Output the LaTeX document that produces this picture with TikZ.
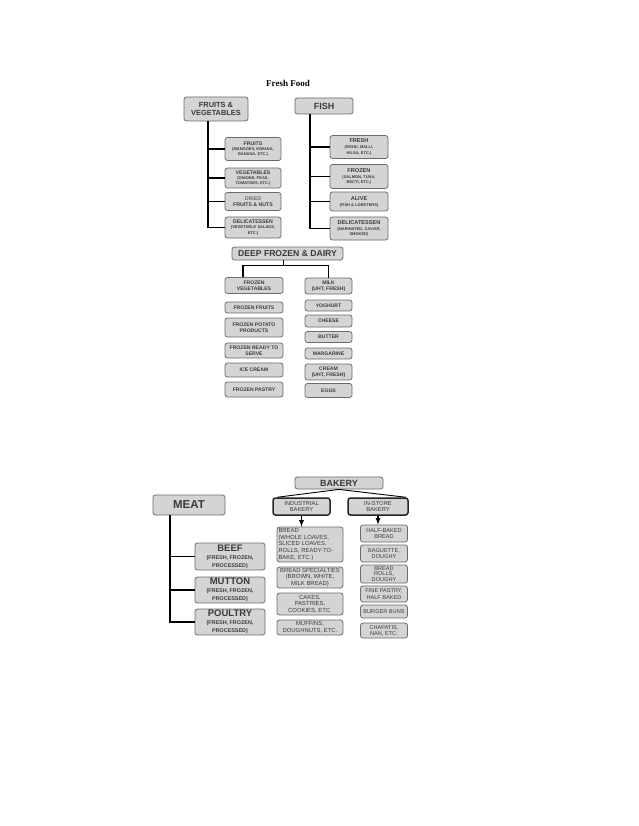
\documentclass[tikz,border=0pt]{standalone}
\usepackage{fontspec}
\setmainfont{Liberation Serif}
\newfontfamily\boxfont{Liberation Sans}
\definecolor{boxgray}{HTML}{D3D5D3}
\definecolor{boxline}{HTML}{6A6C6A}
\definecolor{boxtext}{HTML}{3A3A3A}
\newcommand{\bxf}[2]{\boxfont\bfseries\fontsize{#1}{#2}\selectfont}
\newcommand{\subt}[1]{{\fontsize{4}{4.4}\selectfont #1}}
\newcommand{\meatsub}[1]{{\fontsize{5.4}{6}\selectfont #1}}

\begin{document}
\begin{tikzpicture}[x=1pt, y=-1pt,
    item/.style={draw=boxline, fill=boxgray, rounded corners=2.5pt, line width=0.8pt,
      align=center, text=boxtext, inner sep=0.5pt},
    bakebox/.style={item, line width=1.5pt, draw=black!85},
    tree/.style={line width=1.2pt, black}]

    \useasboundingbox (0,0) rectangle (638,826); % page size

    \node[font=\bfseries\fontsize{9}{10}\selectfont] (title) at (288,83) {Fresh Food};

    % fruits & vegetables
    \node[item, minimum width=64pt, minimum height=24pt, font=\bxf{7.4}{8.2}] (fv) at (216,109)
      {FRUITS \&\\VEGETABLES};
    \node[item, minimum width=56pt, minimum height=23pt, font=\bxf{5.2}{5.2}] (fruits) at (253,149)
      {FRUITS\\\subt{(MANGOES, KIWANA,}\\\subt{BANANA, ETC.)}};
    \node[item, minimum width=56pt, minimum height=20pt, font=\bxf{5.2}{5.2}] (veg) at (253,178)
      {VEGETABLES\\\subt{(ONIONS, PEAS,}\\\subt{TOMATOES, ETC.)}};
    \node[item, minimum width=56pt, minimum height=18pt, font=\bxf{5.2}{6.2}] (dried) at (253,201.5)
      {{\mdseries DRIED}\\FRUITS \& NUTS};
    \node[item, minimum width=56pt, minimum height=21pt, font=\bxf{5.2}{5.2}] (fdeli) at (253,227.5)
      {DELICATESSEN\\\subt{(VEGETABLE SALADS,}\\\subt{ETC.)}};

    \coordinate (ftrunk) at ([xshift=-8pt]fv.south);
    \draw[tree] (ftrunk) |- (fruits.west);
    \draw[tree] (ftrunk) |- (veg.west);
    \draw[tree] (ftrunk) |- (dried.west);
    \draw[tree] (ftrunk) |- (fdeli.west);

    % fish
    \node[item, minimum width=58pt, minimum height=16pt, font=\bxf{9}{10}] (fish) at (324,106) {FISH};
    \node[item, minimum width=58pt, minimum height=23pt, font=\bxf{5.6}{5.8}] (fresh) at (359,147)
      {FRESH\\\subt{(ROHU, MALLI,}\\\subt{HILSA, ETC.)}};
    \node[item, minimum width=58pt, minimum height=24pt, font=\bxf{5.6}{5.8}] (fishfrozen) at (359,176.5)
      {FROZEN\\\subt{(SALMON, TUNA,}\\\subt{BECTI, ETC.)}};
    \node[item, minimum width=58pt, minimum height=19pt, font=\bxf{5.6}{6}] (alive) at (359,201.5)
      {ALIVE\\\subt{(FISH \& LOBSTERS)}};
    \node[item, minimum width=58pt, minimum height=23pt, font=\bxf{5.6}{5.8}] (fishdeli) at (359,228.5)
      {DELICATESSEN\\\subt{(MARINATED, CAVIAR,}\\\subt{SMOKED)}};

    \coordinate (fishtrunk) at ([xshift=-14pt]fish.south);
    \draw[tree] (fishtrunk) |- (fresh.west);
    \draw[tree] (fishtrunk) |- (fishfrozen.west);
    \draw[tree] (fishtrunk) |- (alive.west);
    \draw[tree] (fishtrunk) |- (fishdeli.west);

    % deep frozen & dairy
    \node[item, minimum width=111pt, minimum height=13pt, font=\bxf{8.6}{9}] (df) at (287.5,253.5)
      {DEEP FROZEN \& DAIRY};
    \node[item, minimum width=58pt, minimum height=16pt, font=\bxf{5.1}{5.8}] (fveg) at (254,285.5)
      {FROZEN\\VEGETABLES};
    \node[item, minimum width=58pt, minimum height=11pt, font=\bxf{5.1}{5.8}] (ffruits) at (254,307.5)
      {FROZEN FRUITS};
    \node[item, minimum width=58pt, minimum height=19pt, font=\bxf{5.1}{5.8}] (fpotato) at (254,327.5)
      {FROZEN POTATO\\PRODUCTS};
    \node[item, minimum width=58pt, minimum height=15pt, font=\bxf{5.1}{5.8}] (fready) at (254,350.5)
      {FROZEN READY TO\\SERVE};
    \node[item, minimum width=58pt, minimum height=14pt, font=\bxf{5.1}{5.8}] (icecream) at (254,370)
      {ICE CREAM};
    \node[item, minimum width=58pt, minimum height=15pt, font=\bxf{5.1}{5.8}] (fpastry) at (254,389.5)
      {FROZEN PASTRY};

    \node[item, minimum width=47pt, minimum height=16pt, font=\bxf{5.1}{5.8}] (milk) at (328.5,286)
      {MILK\\(UHT, FRESH)};
    \node[item, minimum width=47pt, minimum height=11pt, font=\bxf{5.1}{5.8}] (yoghurt) at (328.5,305.5)
      {YOGHURT};
    \node[item, minimum width=47pt, minimum height=12pt, font=\bxf{5.1}{5.8}] (cheese) at (328.5,321)
      {CHEESE};
    \node[item, minimum width=47pt, minimum height=11pt, font=\bxf{5.1}{5.8}] (butter) at (328.5,337)
      {BUTTER};
    \node[item, minimum width=47pt, minimum height=11pt, font=\bxf{5.1}{5.8}] (margarine) at (328.5,353.5)
      {MARGARINE};
    \node[item, minimum width=47pt, minimum height=16pt, font=\bxf{5.1}{5.8}] (cream) at (328.5,372)
      {CREAM\\(UHT, FRESH)};
    \node[item, minimum width=47pt, minimum height=14pt, font=\bxf{5.1}{5.8}] (eggs) at (328.5,390.5)
      {EGGS};

    \coordinate (dfj) at ([xshift=-4pt, yshift=-5pt]df.south);
    \draw[tree] (dfj) -- (dfj |- df.south);
    \draw[tree] ([xshift=-11pt]fveg.north) |- (dfj) -| (milk.north);

    % meat
    \node[item, minimum width=72pt, minimum height=20pt, font=\bxf{11.5}{12}] (meat) at (189,505) {MEAT};
    \node[item, minimum width=70pt, minimum height=27pt, font=\bxf{9.5}{8}] (beef) at (230,556.5)
      {BEEF\\\meatsub{(FRESH, FROZEN,}\\\meatsub{PROCESSED)}};
    \node[item, minimum width=70pt, minimum height=26pt, font=\bxf{9.5}{8}] (mutton) at (230,590)
      {MUTTON\\\meatsub{(FRESH, FROZEN,}\\\meatsub{PROCESSED)}};
    \node[item, minimum width=70pt, minimum height=26pt, font=\bxf{9.5}{8}] (poultry) at (230,622)
      {POULTRY\\\meatsub{(FRESH, FROZEN,}\\\meatsub{PROCESSED)}};

    \coordinate (meattrunk) at ([xshift=-19pt]meat.south);
    \draw[tree] (meattrunk) |- (beef.west);
    \draw[tree] (meattrunk) |- (mutton.west);
    \draw[tree] (meattrunk) |- (poultry.west);

    % bakery
    \node[item, minimum width=88pt, minimum height=12pt, font=\bxf{9}{10}] (bakery) at (339,483) {BAKERY};
    \node[bakebox, minimum width=57pt, minimum height=17pt, font=\boxfont\fontsize{5.8}{6.6}\selectfont]
      (industrial) at (301.5,506.5) {INDUSTRIAL\\BAKERY};
    \node[bakebox, minimum width=60pt, minimum height=17pt, font=\boxfont\fontsize{5.8}{6.6}\selectfont]
      (instore) at (378,506.5) {IN-STORE\\BAKERY};

    \node[item, minimum width=66pt, minimum height=35pt, text width=63pt, align=left,
      font=\boxfont\fontsize{5.9}{6.9}\selectfont] (bread) at (310,544.5)
      {BREAD\\(WHOLE LOAVES,\\SLICED LOAVES,\\ROLLS, READY-TO-\\BAKE, ETC.)};
    \node[item, minimum width=66pt, minimum height=21pt, font=\boxfont\fontsize{5.9}{6.3}\selectfont]
      (bspecial) at (310,577.5) {BREAD SPECIALTIES\\(BROWN, WHITE,\\MILK BREAD)};
    \node[item, minimum width=66pt, minimum height=22pt, font=\boxfont\fontsize{5.9}{6.6}\selectfont]
      (cakes) at (310,604) {CAKES,\\PASTRIES,\\COOKIES, ETC.};
    \node[item, minimum width=66pt, minimum height=15pt, font=\boxfont\fontsize{5.9}{6.6}\selectfont]
      (muffins) at (310,627.5) {MUFFINS,\\DOUGHNUTS, ETC.};

    \node[item, minimum width=47pt, minimum height=17pt, font=\boxfont\fontsize{5.6}{6.2}\selectfont]
      (halfbaked) at (384,533.5) {HALF-BAKED\\BREAD};
    \node[item, minimum width=47pt, minimum height=17pt, font=\boxfont\fontsize{5.6}{6.2}\selectfont]
      (baguette) at (384,553.5) {BAGUETTE,\\DOUGHY};
    \node[item, minimum width=47pt, minimum height=18pt, font=\boxfont\fontsize{5.6}{5.4}\selectfont]
      (rolls) at (384,574) {BREAD\\ROLLS,\\DOUGHY};
    \node[item, minimum width=47pt, minimum height=16pt, font=\boxfont\fontsize{5.6}{6.2}\selectfont]
      (finepastry) at (384,594) {FINE PASTRY,\\HALF BAKED};
    \node[item, minimum width=47pt, minimum height=13pt, font=\boxfont\fontsize{5.6}{6.2}\selectfont]
      (burger) at (384,611.5) {BURGER BUNS};
    \node[item, minimum width=47pt, minimum height=15pt, font=\boxfont\fontsize{5.6}{6.2}\selectfont]
      (chapatis) at (384,630.5) {CHAPATIS,\\NAN, ETC.};

    \draw[tree, line width=0.9pt] (bakery.south) -- ([xshift=5pt]industrial.north west);
    \draw[tree, line width=0.9pt] (bakery.south) -- ([xshift=-3pt]instore.north east);
    \draw[tree, -latex] (industrial.south) -- (industrial.south |- bread.north);
    \draw[tree, -latex] (instore.south) -- (instore.south |- halfbaked.north);

\end{tikzpicture}
\end{document}
